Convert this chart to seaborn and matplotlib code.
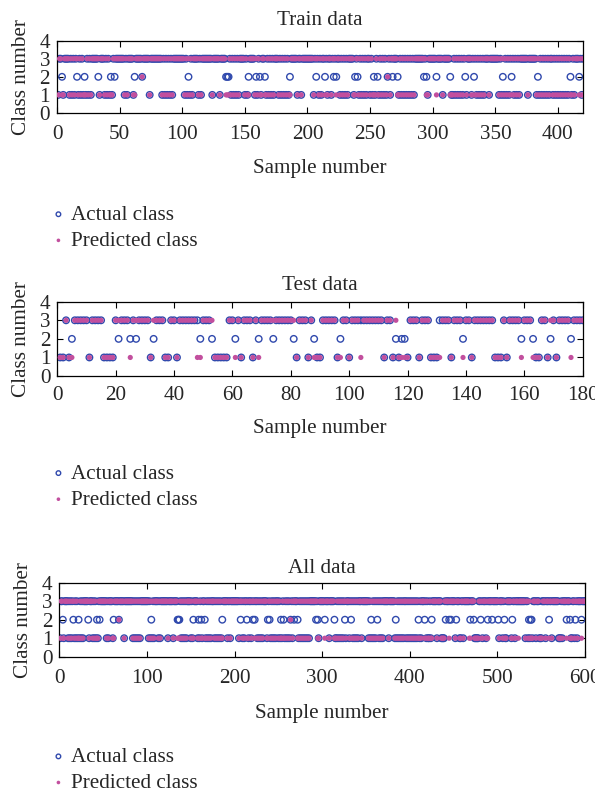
import numpy as np
import pandas as pd
import matplotlib
matplotlib.use('Agg')
import matplotlib.pyplot as plt
import seaborn as sns

# ---------------- DATA ----------------
# Train set: 420 samples, class 3 unless listed
train_n = 420
train_actual_1 = [1, 5, 10, 12, 14, 17, 19, 21, 23, 25, 27, 34, 38, 40, 42, 44, 54, 56, 61, 74,
                  84, 86, 88, 90, 92, 102, 104, 106, 108, 113, 115, 124, 130, 139, 141, 143, 145,
                  150, 152, 158, 160, 163, 167, 169, 171, 173, 177, 179, 181, 183, 185, 192, 195,
                  205, 209, 211, 216, 219, 226, 228, 230, 232, 237, 241, 243, 245, 247, 250, 252,
                  254, 257, 259, 261, 263, 266, 273, 275, 277, 279, 281, 283, 285, 296, 308, 315,
                  316, 318, 320, 322, 324, 327, 331, 335, 337, 339, 341, 345, 353, 355, 357, 359,
                  361, 365, 367, 369, 376, 383, 385, 387, 389, 391, 393, 396, 398, 400, 402, 404,
                  406, 408, 411, 413, 419]
train_actual_2 = [4, 16, 22, 33, 43, 46, 62, 68, 105, 135, 136, 137, 153, 159, 162, 166, 186,
                  207, 214, 221, 223, 238, 240, 253, 256, 264, 268, 272, 293, 295, 303, 314, 326,
                  333, 356, 363, 384, 410, 417]
# misclassified samples and the class they were predicted as
train_wrong_idx = [4, 16, 22, 33, 43, 46, 62, 105, 135, 136, 137, 153, 159, 162, 166, 186, 207,
                   214, 221, 223, 238, 240, 253, 256, 268, 272, 293, 295, 303, 314, 326, 333, 356,
                   363, 384, 410, 417]
train_wrong_pred = [1, 3, 1, 3, 1, 3, 1, 3, 1, 1, 1, 1, 3, 1, 1, 1, 3,
                    1, 3, 1, 1, 3, 1, 1, 3, 1, 3, 1, 1, 1, 3, 1, 3,
                    1, 3, 1, 1]

# Test set: 180 samples
test_n = 180
test_actual_1 = [1, 2, 4, 11, 16, 17, 18, 19, 32, 37, 38, 41, 54, 55, 56, 57, 58, 63, 67, 82, 86,
                 89, 90, 96, 100, 112, 115, 117, 120, 124, 128, 129, 130, 135, 142, 150, 151, 152,
                 154, 164, 165, 168, 171]
test_actual_2 = [5, 21, 25, 27, 33, 49, 53, 61, 69, 74, 81, 88, 97, 116, 118, 119, 139, 159, 163,
                 169, 176]
test_wrong_idx = [5, 21, 25, 27, 33, 49, 53, 61, 69, 74, 81, 88, 97, 116, 118, 119, 139, 159,
                  163, 169, 176, 48, 104, 131]
test_wrong_pred = [1, 3, 1, 3, 3, 1, 3, 1, 1, 3, 3, 1, 1, 3, 1, 1, 1, 1,
                   1, 3, 1, 1, 1, 1]

blue = '#3049ad'
pink = '#c24f9e'


def build(n, c1, c2, widx, wpred):
    actual = np.full(n, 3)
    actual[np.array(c1) - 1] = 1
    actual[np.array(c2) - 1] = 2
    pred = actual.copy()
    pred[np.array(widx) - 1] = wpred
    return actual, pred


train_a, train_p = build(train_n, train_actual_1, train_actual_2, train_wrong_idx, train_wrong_pred)
test_a, test_p = build(test_n, test_actual_1, test_actual_2, test_wrong_idx, test_wrong_pred)
# all data = train followed by test
all_a = np.concatenate([train_a, test_a])
all_p = np.concatenate([train_p, test_p])

# ---------------- PLOT ----------------
sns.set_theme(style='ticks')
plt.rcParams['font.family'] = ['Liberation Serif', 'DejaVu Serif']

fs = 15.2

fig = plt.figure(figsize=(5.95, 7.94), dpi=100)

# title, actual, predicted, xmax, xticks, axes rect, legend top, title pad, xtick pad, xlabel pad
panels = [
    ('Train data', train_a, train_p, 420, np.arange(0, 401, 50),
     [0.0958, 0.8577, 0.884, 0.0911], 0.7418, 11, 9, 10.5),
    ('Test data', test_a, test_p, 180, np.arange(0, 181, 20),
     [0.0963, 0.5264, 0.883, 0.0936], 0.4158, 8.5, 7, 10),
    ('All data', all_a, all_p, 600, np.arange(0, 601, 100),
     [0.0997, 0.1729, 0.8835, 0.0932], 0.0590, 7, 9, 11.5),
]

for title, act, prd, xmax, xticks, rect, leg_y, tpad, xpad, lpad in panels:
    ax = fig.add_axes(rect)
    df = pd.DataFrame({'sample': np.arange(1, len(act) + 1), 'actual': act, 'pred': prd})
    sns.scatterplot(data=df, x='sample', y='actual', ax=ax, marker='o', s=22,
                    facecolor='none', edgecolor=blue, linewidth=1.0,
                    label='Actual class', zorder=2)
    sns.scatterplot(data=df, x='sample', y='pred', ax=ax, marker='o', s=14,
                    facecolor=pink, edgecolor='none', linewidth=0,
                    label='Predicted class', zorder=3)
    ax.set_xlim(0, xmax)
    ax.set_ylim(0, 4)
    ax.set_xticks(xticks)
    ax.set_yticks([0, 1, 2, 3, 4])
    ax.tick_params(direction='in', top=True, right=True, length=4, width=0.8,
                   labelsize=fs, color='black')
    ax.tick_params(axis='x', pad=xpad)
    ax.tick_params(axis='y', pad=5)
    for sp in ax.spines.values():
        sp.set_linewidth(0.9)
        sp.set_color('black')
    ax.set_title(title, fontsize=fs, pad=tpad)
    ax.set_xlabel('Sample number', fontsize=fs, labelpad=lpad)
    ax.set_ylabel('Class number', fontsize=fs, labelpad=6)
    handles, labels = ax.get_legend_handles_labels()
    ax.get_legend().remove()
    fig.legend(handles, labels, loc='upper left', bbox_to_anchor=(0.084, leg_y),
               bbox_transform=fig.transFigure, frameon=False, fontsize=fs,
               handletextpad=0.2, handlelength=0.8, labelspacing=0.3,
               borderaxespad=0, borderpad=0, scatterpoints=1, markerscale=0.7)

fig.savefig('out.png', dpi=100)
